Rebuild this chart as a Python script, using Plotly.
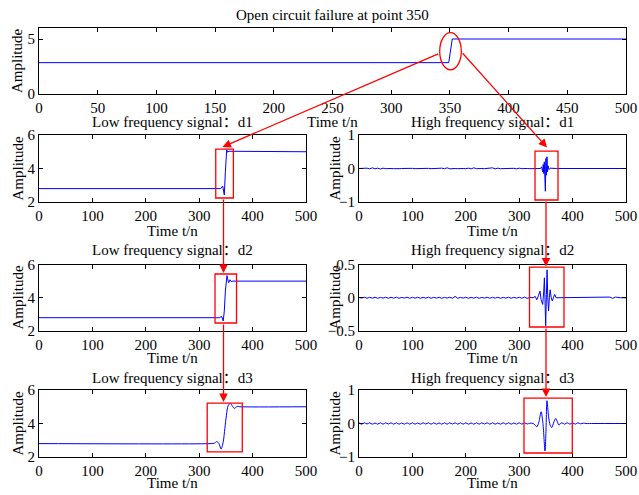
import plotly.graph_objects as go

# ---------------- data ----------------
TOP_X = [0, 349, 352, 500]
TOP_Y = [2.85, 2.85, 5.0, 5.0]

LOW1_X = [0, 340, 344, 346, 347, 349, 351.5, 353, 356, 500]
LOW1_Y = [2.8, 2.8, 2.95, 2.7, 2.42, 3.8, 5.12, 4.98, 5.03, 5.0]

LOW2_X = [0, 338, 342, 345, 347, 349, 352, 355, 357.7, 360, 363, 500]
LOW2_Y = [2.8, 2.8, 2.88, 2.6, 3.2, 4.4, 5.33, 4.9, 5.08, 4.97, 5.0, 5.0]

LOW3_X = [0, 322, 328, 333, 337, 341, 345, 348, 351, 354, 358, 362, 366, 371, 376, 500]
LOW3_Y = [2.8, 2.8, 2.82, 2.92, 2.8, 2.47, 2.9, 3.7, 4.5, 5.05, 5.2, 5.05, 4.9, 5.02, 5.0, 5.0]

BASE_X = list(range(0, 325, 5))  # sample positions of the low-level ripple before the fault

HF1_BASE_Y = [0.0, 0.005, -0.005, 0.01, -0.01, 0.02, -0.01, 0.01, -0.015, 0.01,
              -0.005, 0.005, 0.0, -0.005, 0.005, -0.005, 0.0, 0.005, -0.005, 0.0,
              0.005, -0.005, 0.0, 0.005, -0.005, 0.0, 0.005, -0.005, 0.0, 0.005,
              -0.01, 0.01, -0.005, 0.02, -0.01, 0.005, 0.0, -0.005, 0.005, 0.0,
              -0.005, 0.01, -0.01, 0.02, -0.005, 0.005, 0.0, -0.005, 0.005, 0.0,
              0.02, -0.01, 0.01, -0.005, 0.0, 0.005, -0.005, 0.0, 0.005, -0.01,
              0.01, -0.005, 0.005, 0.0, -0.005]
HF1_EVT_X = [325, 335, 340, 342, 344, 345, 346, 347, 348, 349, 350, 351, 352, 353, 354, 356, 358, 362, 370, 500]
HF1_EVT_Y = [0.0, 0.01, 0.0, 0.05, -0.1, 0.12, -0.15, 0.2, -0.3, -0.68, 0.3, -0.2, 0.35, -0.1, 0.08, -0.03, 0.01, 0.0, 0.0, 0.0]

HF2_BASE_Y = [0.005, -0.005, 0.008, -0.008, 0.006, -0.006, 0.008, -0.008, 0.005, -0.005,
              0.008, -0.008, 0.006, -0.006, 0.008, -0.008, 0.005, -0.005, 0.008, -0.008,
              0.006, -0.006, 0.008, -0.008, 0.005, -0.005, 0.008, -0.008, 0.006, -0.006,
              0.008, -0.008, 0.005, -0.005, 0.008, -0.008, 0.02, -0.008, 0.005, -0.005,
              0.008, -0.008, 0.006, -0.006, 0.008, -0.008, 0.005, -0.005, 0.008, -0.008,
              0.006, -0.006, 0.008, -0.008, 0.005, -0.005, 0.008, -0.008, 0.006, -0.006,
              0.008, -0.008, 0.01, -0.01, 0.005]
HF2_EVT_X = [326, 330, 333, 336, 339, 341, 344, 346, 347.2, 348.2, 349.6, 351, 352.2, 353.5, 355, 356.5,
             358, 360, 362, 364, 366.5, 369, 372, 380, 400, 420, 440, 460, 470, 475, 480, 490, 500]
HF2_EVT_Y = [0.0, 0.02, -0.03, 0.03, 0.1, -0.03, -0.1, 0.1, 0.3, 0.0, -0.42, 0.05, 0.42, 0.0, -0.2, 0.0,
             0.12, 0.0, -0.05, 0.0, 0.05, 0.0, 0.0, 0.0, 0.0, 0.005, 0.0, 0.0, 0.01, -0.01, 0.01, 0.0, 0.0]

HF3_BASE_Y = [0.02, -0.02, 0.02, -0.015, 0.02, -0.02, 0.015, -0.02, 0.02, -0.02,
              0.02, -0.015, 0.02, -0.02, 0.02, -0.02, 0.015, -0.02, 0.02, -0.02,
              0.02, -0.02, 0.015, -0.02, 0.02, -0.015, 0.02, -0.02, 0.02, -0.02,
              0.015, -0.02, 0.02, -0.02, 0.02, -0.015, 0.02, -0.02, 0.02, -0.02,
              0.02, -0.02, 0.015, -0.02, 0.02, -0.02, 0.02, -0.015, 0.02, -0.02,
              0.02, -0.02, 0.015, -0.02, 0.02, -0.02, 0.02, -0.02, 0.015, -0.02,
              0.02, -0.02, 0.02, -0.015, 0.01]
HF3_EVT_X = [326, 330, 333, 337, 341, 344.5, 348.3, 350, 352, 355, 358, 361, 365, 368.5, 371.5, 374.5, 377,
             380, 385, 390, 395, 400, 405, 410, 415, 420, 425, 440, 500]
HF3_EVT_Y = [0.0, -0.05, -0.1, 0.05, 0.35, 0.0, -0.82, -0.3, 0.68, 0.2, -0.05, -0.12, 0.05, 0.15, 0.05, -0.05, 0.0,
             0.02, -0.02, 0.02, -0.02, 0.02, -0.02, 0.02, -0.01, 0.01, 0.0, 0.0, 0.0]

MAIN_TITLE = "Open circuit failure at point 350"
LOW_TITLES = ["Low frequency signal：d1", "Low frequency signal：d2", "Low frequency signal：d3"]
HIGH_TITLES = ["High frequency signal：d1", "High frequency signal：d2", "High frequency signal：d3"]
X_LABEL = "Time t/n"
Y_LABEL = "Amplitude"

# ---------------- layout ----------------
W, H = 639, 495
FONT = "Liberation Serif, Times New Roman, Noto Sans CJK SC, serif"
FS = 15
BLUE = "#0000ff"
RED = "#ff0000"


def px(x):
    return x / W


def py(y):
    return 1 - y / H


fig = go.Figure()


def add(xs, ys, ax, shape="linear"):
    fig.add_trace(go.Scatter(x=xs, y=ys, mode="lines", xaxis="x" + ax, yaxis="y" + ax,
                             line=dict(color=BLUE, width=1, shape=shape, smoothing=0.8),
                             hoverinfo="skip", showlegend=False))


add(TOP_X, TOP_Y, "")
add(LOW1_X, LOW1_Y, "2")
add(BASE_X + HF1_EVT_X, HF1_BASE_Y + HF1_EVT_Y, "3")
add(LOW2_X, LOW2_Y, "4")
add(BASE_X + HF2_EVT_X, HF2_BASE_Y + HF2_EVT_Y, "5")
add(LOW3_X, LOW3_Y, "6", "spline")
add(BASE_X + HF3_EVT_X, HF3_BASE_Y + HF3_EVT_Y, "7", "spline")


def axis(domain, rng, ticks, anchor):
    return dict(domain=domain, range=rng, tickvals=ticks, anchor=anchor,
                showline=True, linecolor="black", linewidth=1, mirror="ticks",
                ticks="inside", ticklen=4, tickcolor="black", tickwidth=1,
                showgrid=False, zeroline=False, automargin=False, fixedrange=True,
                tickfont=dict(family=FONT, size=FS, color="black"))


LX = [px(39), px(306)]
RX = [px(359), px(626)]
TOPX = [px(39), px(626)]
TOPY = [py(94), py(28)]
R1 = [py(202), py(135)]
R2 = [py(331), py(264.5)]
R3 = [py(457), py(390)]

layout = dict(
    width=W, height=H, margin=dict(l=0, r=0, t=0, b=0),
    paper_bgcolor="white", plot_bgcolor="white", showlegend=False,
    font=dict(family=FONT, size=FS, color="black"),
    xaxis=axis(TOPX, [0, 500], list(range(0, 501, 50)), "y"),
    yaxis=axis(TOPY, [0, 6], [0, 5], "x"),
    xaxis2=axis(LX, [0, 500], list(range(0, 501, 100)), "y2"),
    yaxis2=axis(R1, [2, 6], [2, 4, 6], "x2"),
    xaxis3=axis(RX, [0, 500], list(range(0, 501, 100)), "y3"),
    yaxis3=axis(R1, [-1, 1], [-1, 0, 1], "x3"),
    xaxis4=axis(LX, [0, 500], list(range(0, 501, 100)), "y4"),
    yaxis4=axis(R2, [2, 6], [2, 4, 6], "x4"),
    xaxis5=axis(RX, [0, 500], list(range(0, 501, 100)), "y5"),
    yaxis5=axis(R2, [-0.5, 0.5], [-0.5, 0, 0.5], "x5"),
    xaxis6=axis(LX, [0, 500], list(range(0, 501, 100)), "y6"),
    yaxis6=axis(R3, [2, 6], [2, 4, 6], "x6"),
    xaxis7=axis(RX, [0, 500], list(range(0, 501, 100)), "y7"),
    yaxis7=axis(R3, [-1, 1], [-1, 0, 1], "x7"),
)
fig.update_layout(**layout)

# red highlight boxes (data coordinates of each subplot)
shapes = [
    dict(type="circle", xref="x", yref="y", x0=341.3, x1=359.7, y0=2.19, y1=5.58),
    dict(type="rect", xref="x2", yref="y2", x0=331, x1=364, y0=2.24, y1=5.16),
    dict(type="rect", xref="x3", yref="y3", x0=329.6, x1=372.7, y0=-0.94, y1=0.52),
    dict(type="rect", xref="x4", yref="y4", x0=329.6, x1=369.9, y0=2.48, y1=5.43),
    dict(type="rect", xref="x5", yref="y5", x0=319.3, x1=383.9, y0=-0.44, y1=0.46),
    dict(type="rect", xref="x6", yref="y6", x0=315, x1=380.7, y0=2.3, y1=5.22),
    dict(type="rect", xref="x7", yref="y7", x0=309, x1=399.4, y0=-0.88, y1=0.76),
]
for s in shapes:
    s["line"] = dict(color=RED, width=1.3)
    s["layer"] = "above"
fig.update_layout(shapes=shapes)

ann = []


def text(x, y, t, angle=0):
    ann.append(dict(x=px(x), y=py(y), xref="paper", yref="paper", text=t, showarrow=False,
                    xanchor="center", yanchor="middle", textangle=angle,
                    font=dict(family=FONT, size=FS, color="black")))


def arrow(tail, tip):
    ann.append(dict(x=px(tip[0]), y=py(tip[1]), xref="paper", yref="paper", text="",
                    showarrow=True, ax=tail[0] - tip[0], ay=tail[1] - tip[1],
                    axref="pixel", ayref="pixel", arrowhead=2, arrowsize=1.3,
                    arrowwidth=1.3, arrowcolor=RED, standoff=0))


text(332.5, 15, MAIN_TITLE)
text(332.5, 122, X_LABEL)
text(17, 61, Y_LABEL, -90)
for (ty, xy, ay_c), lt, ht in zip([(122, 231, 168.5), (250, 357.5, 297.5), (378, 483, 423.5)],
                                   LOW_TITLES, HIGH_TITLES):
    text(172.5, ty, lt)
    text(492.5, ty, ht)
    text(172.5, xy, X_LABEL)
    text(492.5, xy, X_LABEL)
    text(17, ay_c, Y_LABEL, -90)
    text(334, ay_c, Y_LABEL, -90)

arrow((439.7, 53.3), (222.5, 147))
arrow((461.3, 51.7), (547, 147.5))
arrow((223.5, 198), (223.5, 273))
arrow((223.5, 323), (223.5, 402))
arrow((546, 200), (546, 266.5))
arrow((546, 327), (546, 397))

fig.update_layout(annotations=ann)

fig.write_html("out.html", config=dict(displayModeBar=False),
               post_script="document.body.style.margin='0';document.body.style.overflow='hidden';")
